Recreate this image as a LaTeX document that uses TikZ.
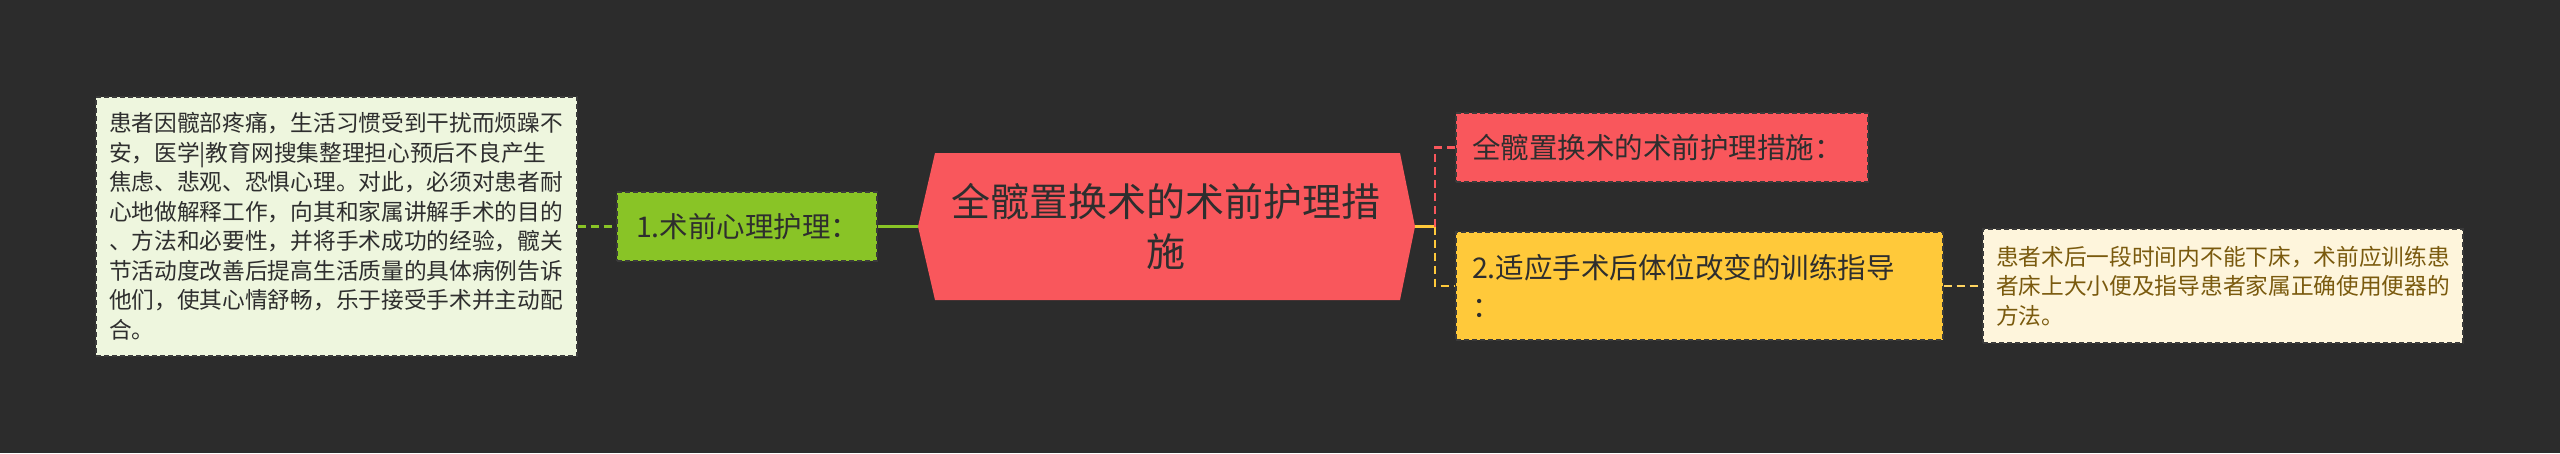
\documentclass[tikz,border=0pt]{standalone}
\usepackage{fontspec}
\setmainfont{Noto Sans CJK SC}
\usepackage{tikz}
\usetikzlibrary{calc}
\definecolor{bgdark}{HTML}{2C2C2C}
\definecolor{hubred}{HTML}{F9575C}
\definecolor{leafgreen}{HTML}{89C426}
\definecolor{leafyellow}{HTML}{FFC93A}
\definecolor{notegreen}{HTML}{EEF6DE}
\definecolor{noteyellow}{HTML}{FEF5DC}
\definecolor{boxedge}{HTML}{3A3A3A}
\definecolor{inkdark}{HTML}{2E2E2E}
\definecolor{inkbrown}{HTML}{7A5A0E}
\tikzset{
  topicbox/.style={draw=boxedge, line width=1.4pt, dash pattern=on 5pt off 3pt,
    inner xsep=16pt, inner ysep=0pt, align=left, text=inkdark,
    font=\fontsize{28.5}{39}\selectfont},
  notebox/.style={draw=boxedge, line width=1.4pt, dash pattern=on 5pt off 3pt,
    inner xsep=13pt, inner ysep=0pt, align=left,
    font=\fontsize{22.7}{29.5}\selectfont},
  solidlink/.style={line width=2.5pt},
  dashlink/.style={line width=2.5pt, dash pattern=on 8pt off 5pt}
}
\begin{document}
\begin{tikzpicture}[x=1pt,y=-1pt]
% background
\fill[bgdark] (0,0) rectangle (2560,453);
\useasboundingbox (0,0) rectangle (2560,453);
% central hexagon
\fill[hubred] (918,226.5) -- (935,153) -- (1400,153) -- (1415,226.5)
  -- (1400,300) -- (935,300) -- cycle;
\coordinate (hubW) at (918,226.5);
\coordinate (hubE) at (1415,226.5);
\node[align=center, text=inkdark, font=\fontsize{39}{50}\selectfont]
  (hub) at (1166,226.5) {全髋置换术的术前护理措\\施};
% left branch
\node[topicbox, fill=leafgreen, minimum width=260pt, minimum height=69pt,
  text width=222pt, inner xsep=19pt] (pre) at (747,226.5) {1.术前心理护理：};
\node[notebox, fill=notegreen, text=inkdark, minimum width=481pt,
  minimum height=259pt, text width=455pt] (noteL) at (336.5,226.5)
  {患者因髋部疼痛，生活习惯受到干扰而烦躁不\\
   安，医学|教育网搜集整理担心预后不良产生\\
   焦虑、悲观、恐惧心理。对此，必须对患者耐\\
   心地做解释工作，向其和家属讲解手术的目的\\
   、方法和必要性，并将手术成功的经验，髋关\\
   节活动度改善后提高生活质量的具体病例告诉\\
   他们，使其心情舒畅，乐于接受手术并主动配\\
   合。};
% right branch
\node[topicbox, fill=hubred, minimum width=412pt, minimum height=69pt,
  text width=380pt] (steps) at (1662,147.5) {全髋置换术的术前护理措施：};
\node[topicbox, fill=leafyellow, minimum width=487pt, minimum height=108pt,
  text width=455pt] (train) at (1699.5,286) {2.适应手术后体位改变的训练指导\\：};
\node[notebox, fill=noteyellow, text=inkbrown, minimum width=480pt,
  minimum height=114pt, text width=454pt] (noteR) at (2223,286)
  {患者术后一段时间内不能下床，术前应训练患\\
   者床上大小便及指导患者家属正确使用便器的\\
   方法。};
% connectors
\coordinate (fork) at (1435,226.5);
\draw[dashlink, leafgreen] (noteL.east) -- (pre.west);
\draw[solidlink, leafgreen] (pre.east) -- (hubW);
\draw[solidlink, leafyellow] (hubE) -- (fork);
\draw[dashlink, hubred] (fork) |- (steps.west);
\draw[dashlink, leafyellow] (fork) |- (train.west);
\draw[dashlink, leafyellow!80!white] (train.east) -- (noteR.west);
\end{tikzpicture}
\end{document}
